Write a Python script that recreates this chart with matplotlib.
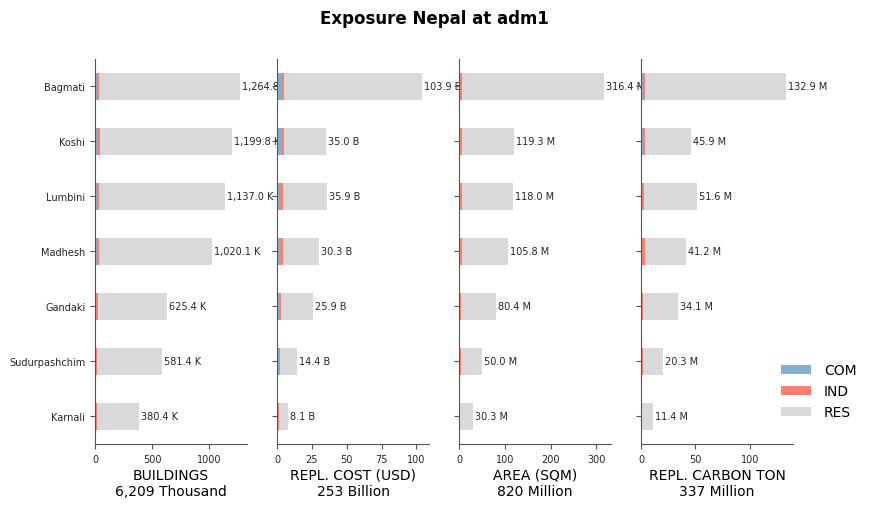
import numpy as np
from matplotlib import pyplot as plt

# data, top to bottom
regions = ["Bagmati", "Koshi", "Lumbini", "Madhesh", "Gandaki", "Sudurpashchim", "Karnali"]
occupancies = ["COM", "IND", "RES"]

bld_com = [18, 15, 15, 15, 3, 2, 2]
bld_ind = [20, 26, 17, 17, 20, 13, 12]
bld_res = [1226.8, 1158.8, 1105.0, 988.1, 602.4, 566.4, 366.4]

cost_com = [2.9, 2.9, 1.9, 1.9, 1.2, 1.4, 0.3]
cost_ind = [1.9, 1.9, 2.2, 2.2, 1.5, 0.5, 0.9]
cost_res = [99.1, 30.2, 31.8, 26.2, 23.2, 12.5, 6.9]

area_com = [0.4, 0.4, 0.3, 0.3, 0.2, 0.2, 0.1]
area_ind = [6.1, 6.1, 6.2, 6.2, 3.4, 4.1, 0.4]
area_res = [309.9, 112.8, 111.5, 99.3, 76.8, 45.7, 29.8]

carb_com = [1.8, 1.8, 0.3, 0.3, 0.2, 0.2, 0.1]
carb_ind = [1.9, 1.9, 2.4, 3.4, 1.3, 1.3, 0.1]
carb_res = [129.2, 42.2, 48.9, 37.5, 32.6, 18.8, 11.2]

panels = [
    ("BUILDINGS", "Thousand", "K", (bld_com, bld_ind, bld_res)),
    ("REPL. COST (USD)", "Billion", "B", (cost_com, cost_ind, cost_res)),
    ("AREA (SQM)", "Million", "M", (area_com, area_ind, area_res)),
    ("REPL. CARBON TON", "Million", "M", (carb_com, carb_ind, carb_res)),
]

colors = {"COM": "#80b1d3", "IND": "#fb8072", "RES": "#d9d9d9"}
spine_col = "#555555"
text_col = "#262626"

fig = plt.figure(figsize=(8.69, 5.1), dpi=100)
fig.suptitle("Exposure Nepal at adm1", fontsize=12, fontweight="bold", y=0.98)

lefts = [0.1093, 0.3188, 0.5283, 0.7376]
y = np.arange(len(regions))[::-1]

for i, (name, unit_word, unit, parts) in enumerate(panels):
    ax = fig.add_axes([lefts[i], 0.1275, 0.175, 0.755])
    left = np.zeros(len(regions))
    for occ, vals in zip(occupancies, parts):
        vals = np.asarray(vals, dtype=float)
        ax.barh(y, vals, left=left, height=0.5, color=colors[occ],
                label=occ if i == 0 else None)
        left = left + vals
    for yy, tot in zip(y, left):
        ax.annotate(f"{tot:,.1f} {unit}", (tot, yy), xytext=(1.5, 0),
                    textcoords="offset points", va="center", ha="left",
                    fontsize=7, color=text_col, annotation_clip=False)
    ax.set_xlim(0, left.max() * 1.05)
    ax.set_ylim(-0.5, len(regions) - 0.5)
    ax.set_yticks(y)
    if i == 0:
        ax.set_yticklabels(regions, fontsize=7, color=text_col)
    else:
        ax.set_yticklabels([])
    ax.tick_params(axis="x", labelsize=7, colors=text_col)
    ax.tick_params(axis="both", color=spine_col)
    for s in ("top", "right"):
        ax.spines[s].set_visible(False)
    for s in ("left", "bottom"):
        ax.spines[s].set_color(spine_col)
    ax.set_xlabel(f"{name}\n{left.sum():,.0f} {unit_word}", fontsize=10,
                  labelpad=3)

fig.legend(loc="upper left", bbox_to_anchor=(0.884, 0.31), frameon=False,
           fontsize=10, handlelength=2.2, handletextpad=0.9)

fig.savefig("out.png", dpi=100)
